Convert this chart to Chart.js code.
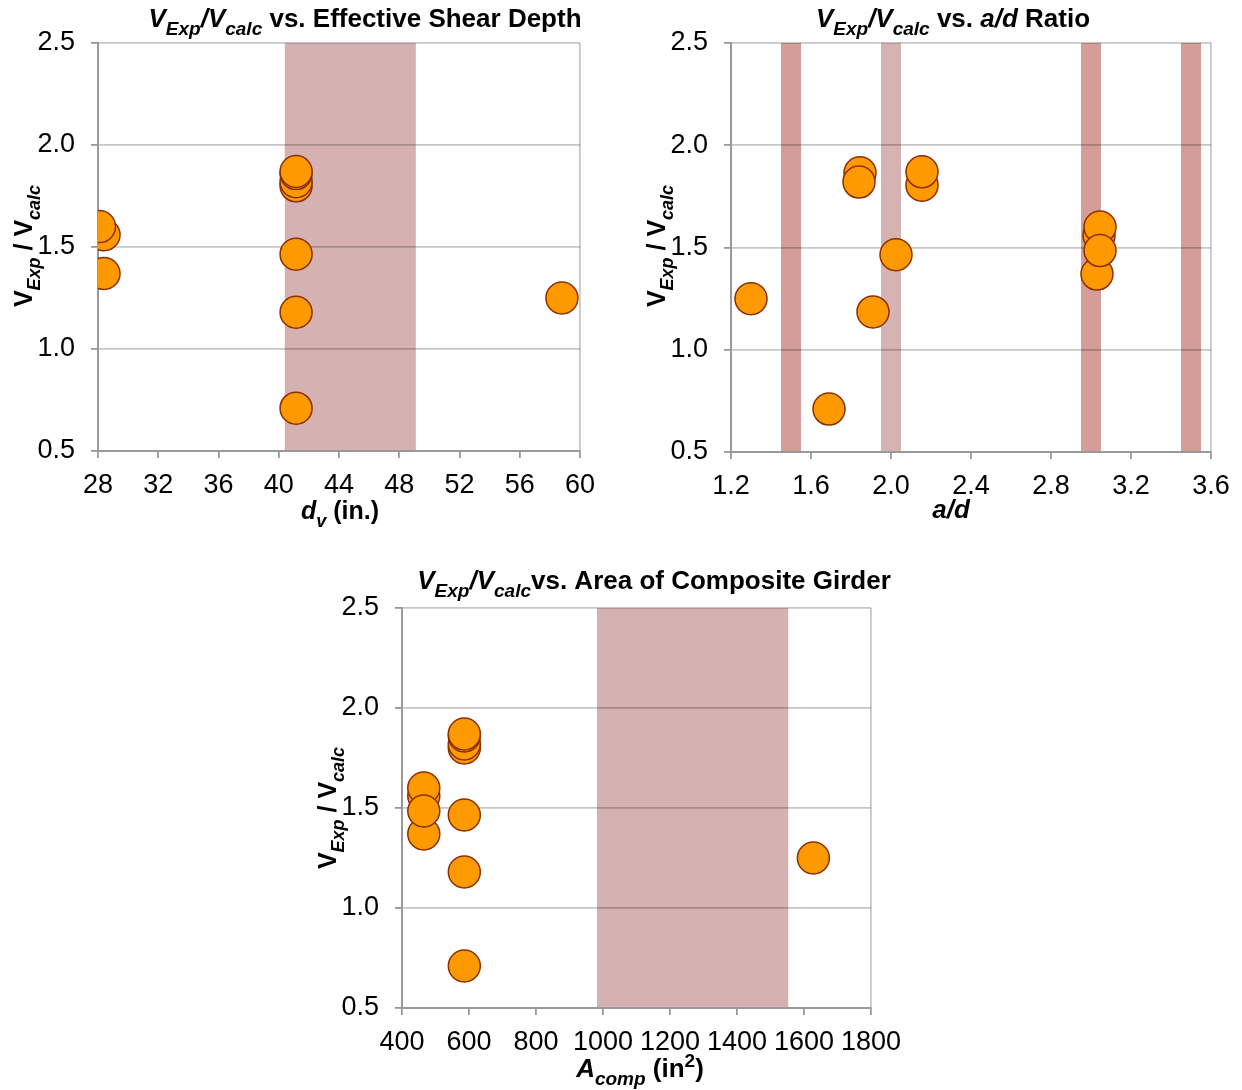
<!DOCTYPE html>
<html>
<head>
<meta charset="utf-8">
<script src="https://cdn.jsdelivr.net/npm/chart.js@4.4.0/dist/chart.umd.min.js"></script>
<style>
    html, body { margin: 0; padding: 0; background: #fff; }
    #wrap { position: relative; width: 1242px; height: 1090px; }
    canvas { position: absolute; }
</style>
</head>
<body>
<div id="wrap">
    <canvas id="dvChart" width="620" height="530" style="left:0;top:0"></canvas>
    <canvas id="adChart" width="622" height="530" style="left:620px;top:0"></canvas>
    <canvas id="acChart" width="620" height="530" style="left:300px;top:560px"></canvas>
</div>
<script>
// V_exp / V_calc vs. effective shear depth d_v (in.)
const dvValues = [28.4, 28.1, 28.4, 41.15, 41.15, 41.15, 41.15, 41.15, 41.15, 41.15, 58.8];
const dvRatios = [1.56, 1.60, 1.37, 1.80, 1.82, 1.86, 1.87, 1.465, 1.18, 0.71, 1.25];
const dvBands = [[40.4, 49.1]];
const dvTicks = [28, 60, 4];

// V_exp / V_calc vs. a/d ratio
const adValues = [1.30, 1.69, 1.91, 2.025, 1.845, 1.84, 2.155, 2.155, 3.03, 3.04, 3.045, 3.045];
const adRatios = [1.25, 0.71, 1.185, 1.465, 1.865, 1.82, 1.805, 1.87, 1.37, 1.56, 1.60, 1.485];
const adBands = [[1.45, 1.55], [1.95, 2.05], [2.95, 3.05], [3.45, 3.55]];
const adTicks = [1.2, 3.6, 0.4];

// V_exp / V_calc vs. area of composite girder A_comp (in^2)
const acValues = [465, 465, 465, 465, 586, 586, 586, 586, 586, 586, 586, 1628];
const acRatios = [1.56, 1.60, 1.37, 1.485, 1.80, 1.82, 1.86, 1.87, 1.465, 1.18, 0.71, 1.25];
const acBands = [[982, 1553]];
const acTicks = [400, 1800, 200];

const ratioTicks = [0.5, 2.5, 0.5];

const FONT = '"Liberation Sans", Arial, sans-serif';

// draws a run of text pieces (italic / subscript / superscript) centred on x=0
function drawRich(ctx, parts, size) {
    const subSize = Math.round(size * 0.72);
    const fontOf = p => (p.i ? 'italic ' : '') + 'bold ' + ((p.sub || p.sup) ? subSize : size) + 'px ' + FONT;
    let total = 0;
    parts.forEach(p => {
        ctx.font = fontOf(p);
        total += ctx.measureText(p.t).width;
    });
    let x = -total / 2;
    ctx.fillStyle = '#000';
    ctx.textBaseline = 'alphabetic';
    ctx.textAlign = 'left';
    parts.forEach(p => {
        ctx.font = fontOf(p);
        let dy = 0;
        if (p.sub) dy = size * 0.3;
        if (p.sup) dy = -size * 0.38;
        ctx.fillText(p.t, x, dy);
        x += ctx.measureText(p.t).width;
    });
}

function textPlugin(items) {
    return {
        id: 'richText',
        afterDraw(chart) {
            const ctx = chart.ctx;
            items.forEach(item => {
                ctx.save();
                ctx.translate(item.x, item.y);
                if (item.rotate) ctx.rotate(item.rotate);
                drawRich(ctx, item.parts, item.size);
                ctx.restore();
            });
        }
    };
}

function bandPlugin(ranges, colors) {
    return {
        id: 'bands',
        beforeDraw(chart) {
            const { ctx, chartArea, scales } = chart;
            ranges.forEach((r, i) => {
                const x0 = scales.x.getPixelForValue(r[0]);
                const x1 = scales.x.getPixelForValue(r[1]);
                ctx.fillStyle = colors[i % colors.length];
                ctx.fillRect(x0, chartArea.top, x1 - x0, chartArea.bottom - chartArea.top);
            });
        }
    };
}

const ratioTitle = [
    { t: 'V' }, { t: 'Exp', i: 1, sub: 1 }, { t: ' / ' }, { t: 'V' }, { t: 'calc', i: 1, sub: 1 }
];
const titleHead = [
    { t: 'V', i: 1 }, { t: 'Exp', i: 1, sub: 1 }, { t: '/', i: 1 }, { t: 'V', i: 1 }, { t: 'calc', i: 1, sub: 1 }
];

function makeChart(id, xs, ys, xTicks, fmt, box, bands, bandColors, texts) {
    const [xMin, xMax, xStep] = xTicks;
    const tickFont = { family: FONT, size: 27 };
    return new Chart(document.getElementById(id), {
        type: 'scatter',
        data: {
            datasets: [{
                data: xs.map((x, i) => ({ x: x, y: ys[i] })),
                pointRadius: 16,
                pointHoverRadius: 16,
                pointBackgroundColor: '#ff9900',
                pointBorderColor: '#8b2e00',
                pointBorderWidth: 1.5
            }]
        },
        options: {
            responsive: false,
            animation: false,
            devicePixelRatio: 1,
            layout: { padding: { top: box.top, right: box.right, left: 0, bottom: 0 } },
            plugins: { legend: { display: false }, tooltip: { enabled: false } },
            scales: {
                x: {
                    type: 'linear',
                    min: xMin, max: xMax,
                    ticks: { stepSize: xStep, callback: fmt, font: tickFont, color: '#000', padding: 11, maxRotation: 0, autoSkip: false },
                    grid: {
                        color: c => (c.tick && Math.abs(c.tick.value - xMax) < 1e-9) ? 'rgba(0,0,0,0.22)' : 'rgba(0,0,0,0)',
                        tickColor: '#999', tickLength: 7, lineWidth: 1.8
                    },
                    border: { color: '#999', width: 2 },
                    afterFit: s => { s.height = box.xh; }
                },
                y: {
                    min: ratioTicks[0], max: ratioTicks[1],
                    ticks: { stepSize: ratioTicks[2], callback: v => v.toFixed(1), font: tickFont, color: '#000', padding: 16 },
                    grid: { color: 'rgba(0,0,0,0.22)', tickColor: '#999', tickLength: 7, lineWidth: 1.8 },
                    border: { color: '#999', width: 2 },
                    afterFit: s => { s.width = box.left; }
                }
            }
        },
        plugins: [bandPlugin(bands, bandColors), textPlugin(texts)]
    });
}

document.addEventListener('DOMContentLoaded', () => {
    makeChart('dvChart', dvValues, dvRatios, dvTicks, v => v,
        { left: 98, top: 43, right: 40, xh: 79 },
        dvBands, ['#d5b2b1'],
        [
            { x: 365, y: 27, size: 26, parts: titleHead.concat([{ t: ' vs. Effective Shear Depth' }]) },
            { x: 32, y: 246, size: 25, rotate: -Math.PI / 2, parts: ratioTitle },
            { x: 340, y: 519, size: 25, parts: [{ t: 'd', i: 1 }, { t: 'v', i: 1, sub: 1 }, { t: ' (in.)' }] }
        ]);

    makeChart('adChart', adValues, adRatios, adTicks, v => v.toFixed(1),
        { left: 111, top: 43, right: 31, xh: 78 },
        adBands, ['#d49d9a', '#d5b3b2', '#d49d9a', '#d49d9a'],
        [
            { x: 333, y: 27, size: 26, parts: titleHead.concat([{ t: ' vs. ' }, { t: 'a/d', i: 1 }, { t: ' Ratio' }]) },
            { x: 45, y: 246, size: 25, rotate: -Math.PI / 2, parts: ratioTitle },
            { x: 331, y: 518, size: 26, parts: [{ t: 'a/d', i: 1 }] }
        ]);

    makeChart('acChart', acValues, acRatios, acTicks, v => v,
        { left: 102, top: 48, right: 49, xh: 82 },
        acBands, ['#d5b2b1'],
        [
            { x: 354, y: 29, size: 26, parts: titleHead.concat([{ t: 'vs. Area of Composite Girder' }]) },
            { x: 36, y: 248, size: 25, rotate: -Math.PI / 2, parts: ratioTitle },
            { x: 340, y: 517, size: 26, parts: [{ t: 'A', i: 1 }, { t: 'comp', i: 1, sub: 1 }, { t: ' (in' }, { t: '2', sup: 1 }, { t: ')' }] }
        ]);
});
</script>
</body>
</html>
